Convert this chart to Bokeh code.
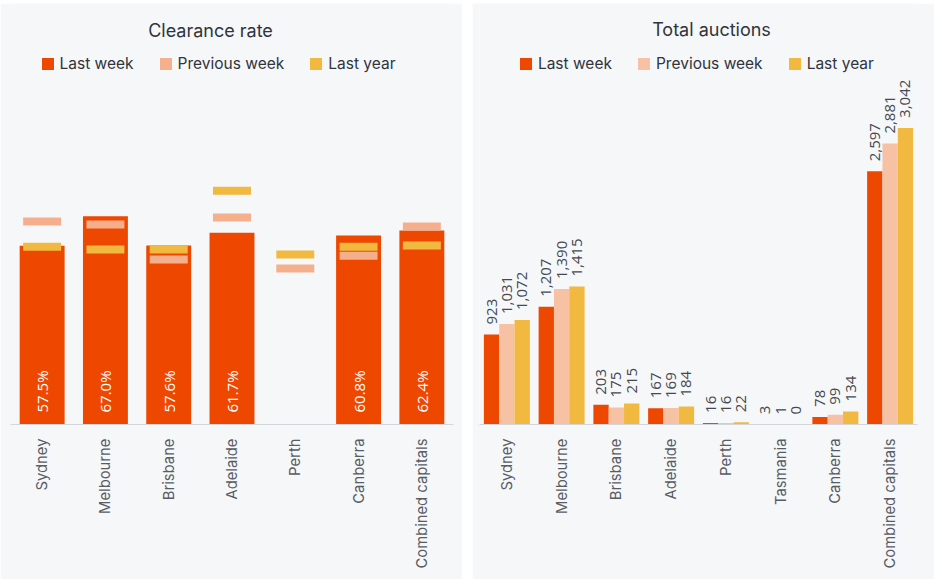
import math
from bokeh.plotting import figure
from bokeh.models import ColumnDataSource, FactorRange, Range1d, Legend, LegendItem, Label
from bokeh.layouts import row
from bokeh.transform import dodge
from bokeh.core.properties import value
from bokeh.embed import file_html
from bokeh.resources import INLINE

# ---------------- data ----------------
cr_cities = ["Sydney", "Melbourne", "Brisbane", "Adelaide", "Perth", "Canberra", "Combined capitals"]
cr_last_week = [57.5, 67.0, 57.6, 61.7, float("nan"), 60.8, 62.4]
cr_prev_week = [65.3, 64.3, 53.1, 66.6, 50.2, 54.3, 63.7]
cr_last_year = [57.2, 56.3, 56.3, 75.2, 54.7, 57.2, 57.6]

ta_cities = ["Sydney", "Melbourne", "Brisbane", "Adelaide", "Perth", "Tasmania", "Canberra", "Combined capitals"]
ta_last_week = [923, 1207, 203, 167, 16, 3, 78, 2597]
ta_prev_week = [1031, 1390, 175, 169, 16, 1, 99, 2881]
ta_last_year = [1072, 1415, 215, 184, 22, 0, 134, 3042]

series_names = ["Last week", "Previous week", "Last year"]

# ---------------- style ----------------
BG = "#F6F7F9"
RED = "#EE4700"
PINK = "#F5AF8C"
PINK2 = "#F7C2A4"
YEL = "#F1B93F"
TXT = "#30343B"
FONT = "Inter"


def style(p):
    p.yaxis.visible = False
    p.xgrid.grid_line_color = None
    p.ygrid.grid_line_color = None
    p.xaxis.major_tick_line_color = None
    p.xaxis.minor_tick_line_color = None
    p.xaxis.axis_line_color = "#D3D6DB"
    p.xaxis.major_label_orientation = math.pi / 2
    p.xaxis.major_label_text_font = FONT
    p.xaxis.major_label_text_font_size = "14.8px"
    p.xaxis.major_label_text_color = "#585D64"
    p.xaxis.major_label_standoff = 8


def make_legend(renderers, x, y):
    items = [LegendItem(label=n, renderers=[r]) for n, r in zip(series_names, renderers)]
    lg = Legend(items=items, orientation="horizontal", location=(x, y),
                glyph_width=15, glyph_height=15, label_height=15, label_width=10,
                label_standoff=5, spacing=24, padding=0, margin=0,
                border_line_color=None, background_fill_alpha=0,
                label_text_font=FONT, label_text_font_size="15.5px",
                label_text_color=TXT)
    return lg


# ---------------- clearance rate ----------------
src1 = ColumnDataSource(dict(
    city=cr_cities, lw=cr_last_week, pw=cr_prev_week, ly=cr_last_year,
    lbl=["" if v != v else f"{v:.1f}%" for v in cr_last_week],
))

p1 = figure(width=462, height=576, x_range=FactorRange(*cr_cities), y_range=Range1d(0, 135.4),
            title=None, output_backend="svg", toolbar_location=None,
            min_border_left=10, min_border_right=9, min_border_top=0, min_border_bottom=155,
            background_fill_color=BG, border_fill_color=BG, outline_line_color=None,
            margin=(3, 0, 0, 0))
r_lw = p1.vbar(x="city", top="lw", width=0.71, source=src1, fill_color=RED, line_color=None)
r_pw = p1.rect(x="city", y="pw", width=0.6, height=8, height_units="screen", source=src1,
               fill_color=PINK, line_color=None)
r_ly = p1.rect(x="city", y="ly", width=0.6, height=8, height_units="screen", source=src1,
               fill_color=YEL, line_color=None)
p1.text(x="city", y=0, text="lbl", angle=math.pi / 2, text_align="left", text_baseline="middle",
        y_offset=-12, text_color="white", text_font=value("Open Sans"), text_font_size="15px",
        source=src1)
style(p1)
p1.add_layout(make_legend([r_lw, r_pw, r_ly], 29.5, 351.5))
p1.add_layout(Label(x=200, y=394, x_units="screen", y_units="screen", text="Clearance rate",
                    text_align="center", text_baseline="middle", text_font=FONT,
                    text_font_size="18px", text_color=TXT))

# ---------------- total auctions ----------------
src2 = ColumnDataSource(dict(
    city=ta_cities, lw=ta_last_week, pw=ta_prev_week, ly=ta_last_year,
    lw_l=[f"{v:,}" for v in ta_last_week],
    pw_l=[f"{v:,}" for v in ta_prev_week],
    ly_l=[f"{v:,}" for v in ta_last_year],
))

p2 = figure(width=462, height=576, x_range=FactorRange(*ta_cities), y_range=Range1d(0, 4318),
            title=None, output_backend="svg", toolbar_location=None,
            min_border_left=7, min_border_right=17, min_border_top=0, min_border_bottom=155,
            background_fill_color=BG, border_fill_color=BG, outline_line_color=None,
            margin=(3, 0, 0, 0))
rr = []
for off, col, fc, lc in [(-0.28, "lw", RED, "lw_l"), (0.0, "pw", PINK2, "pw_l"), (0.28, "ly", YEL, "ly_l")]:
    xx = dodge("city", off, range=p2.x_range)
    rr.append(p2.vbar(x=xx, top=col, width=0.28, source=src2, fill_color=fc, line_color=None))
    p2.text(x=xx, y=col, text=lc, angle=math.pi / 2, text_align="left", text_baseline="middle",
            y_offset=-10, text_color="#454A52", text_font=value("Open Sans"), text_font_size="15px",
            source=src2)
style(p2)
p2.add_layout(make_legend(rr, 38.9, 351.5))
p2.add_layout(Label(x=232, y=395, x_units="screen", y_units="screen", text="Total auctions",
                    text_align="center", text_baseline="middle", text_font=FONT,
                    text_font_size="18px", text_color=TXT))

layout = row(p1, p2, spacing=10)
open("out.html", "w").write(file_html(layout, INLINE))
